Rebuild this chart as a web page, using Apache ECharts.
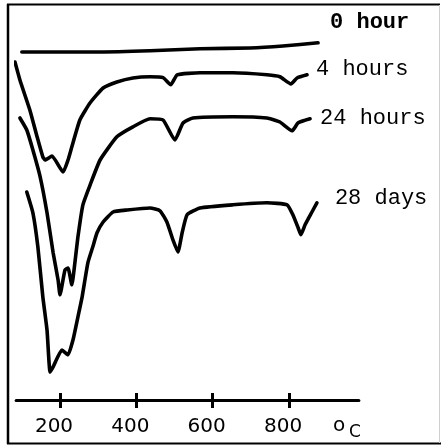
<!DOCTYPE html>
<html>
<head>
<meta charset="utf-8">
<script src="https://cdn.jsdelivr.net/npm/echarts@6/dist/echarts.min.js"></script>
<style>
html,body{margin:0;padding:0;background:#fff;}
#chart{width:442px;height:447px;}
</style>
</head>
<body>
<div id="chart"></div>
<script>
// Temperature (°C) and relative DTA deflection (arbitrary units, up = higher)
const seriesNames = ['0 hour', '4 hours', '24 hours', '28 days'];
const tickTemps = [200, 400, 600, 800];

const temp0h = [100, 305, 436, 567, 698, 784, 876];
const dta0h  = [87, 87, 87.3, 87.8, 88, 88.5, 89.3];

const temp4h = [82, 95, 121, 140, 155, 161, 179, 208, 221, 231, 252, 279, 313, 349, 391, 436, 470, 490, 507, 567, 653, 742, 776, 805, 821, 847];
const dta4h  = [84.5, 80, 72.5, 65.8, 60.8, 60, 61, 57, 60, 63.3, 70, 74.3, 78, 79.5, 80.5, 80.8, 80.6, 78.8, 81.3, 81.8, 81.8, 81.3, 80.8, 79, 80.5, 81.3];

const temp24h = [95, 113, 129, 148, 166, 182, 195, 200, 213, 221, 231, 239, 247, 260, 279, 305, 349, 391, 436, 470, 501, 522, 548, 653, 742, 776, 808, 824, 855];
const dta24h  = [70.5, 67.5, 62.5, 55.8, 46.8, 36.8, 30, 26.3, 32.5, 33, 28.8, 34.3, 40.8, 48.8, 53.8, 60, 65.8, 68.3, 70.3, 70, 65, 69.2, 70.5, 70.8, 70.5, 69.5, 67.3, 69.3, 70.3];

const temp28d = [113, 129, 142, 155, 166, 174, 182, 205, 221, 234, 247, 258, 273, 286, 297, 313, 339, 376, 436, 462, 480, 496, 509, 520, 533, 567, 653, 742, 795, 810, 824, 831, 842, 860, 873];
const dta28d  = [52, 46.8, 38.3, 25.8, 17.5, 7, 8.3, 12.5, 11.3, 15, 20.8, 25.8, 34.3, 38.3, 41.8, 44.5, 47, 47.5, 48, 47.3, 44.5, 40, 37, 41.8, 46.3, 48, 48.8, 49.3, 48.8, 46.3, 43, 41.3, 43.8, 47, 49.3];

const temps = [temp0h, temp4h, temp24h, temp28d];
const dtas = [dta0h, dta4h, dta24h, dta28d];
const labelOffsets = [[4, -20], [1, -6], [2, -1], [10, -5]];
const labelWeights = ['bold', 'normal', 'normal', 'normal'];

const pair = (t, v) => t.map((x, i) => [x, v[i]]);

const chart = echarts.init(document.getElementById('chart'), null, {renderer: 'canvas'});

const series = seriesNames.map((name, k) => ({
  name: name,
  type: 'line',
  data: pair(temps[k], dtas[k]),
  showSymbol: false,
  symbol: 'none',
  smooth: 0.15,
  clip: false,
  lineStyle: {color: '#000', width: 3.6, cap: 'round', join: 'round'},
  endLabel: {
    show: true,
    formatter: '{a}',
    offset: labelOffsets[k],
    fontFamily: 'Liberation Mono',
    fontWeight: labelWeights[k],
    fontSize: 22,
    color: '#000'
  },
  emphasis: {disabled: true}
}));

const option = {
  animation: false,
  backgroundColor: '#fff',
  grid: {left: 16.1, right: 83.1, top: 0, bottom: 47},
  xAxis: [{
    type: 'value', min: 85, max: 983,
    axisLine: {show: true, lineStyle: {color: '#000', width: 3}},
    axisTick: {show: true, customValues: tickTemps, length: 8, lineStyle: {color: '#000', width: 3}},
    axisLabel: {show: true, customValues: tickTemps, fontFamily: 'DejaVu Sans', fontSize: 20, color: '#000', margin: 17, padding: [0, 12, 0, 0]},
    splitLine: {show: false}
  }, {
    type: 'value', min: 85, max: 983, position: 'bottom',
    axisLine: {show: false},
    axisTick: {show: true, inside: true, customValues: tickTemps, length: 7, lineStyle: {color: '#000', width: 3}},
    axisLabel: {show: false},
    splitLine: {show: false}
  }],
  yAxis: {type: 'value', min: 0, max: 100, show: false},
  series: series,
  graphic: [
    {type: 'line', shape: {x1: 8, y1: 4, x2: 8, y2: 444}, style: {stroke: '#000', lineWidth: 2.5}},
    {type: 'line', shape: {x1: 7, y1: 4.5, x2: 440, y2: 4.5}, style: {stroke: '#000', lineWidth: 2}},
    {type: 'line', shape: {x1: 7, y1: 443.5, x2: 441, y2: 443.5}, style: {stroke: '#000', lineWidth: 2}},
    {type: 'line', shape: {x1: 439.5, y1: 5, x2: 439.5, y2: 443}, style: {stroke: '#cfcfcf', lineWidth: 1}},
    {type: 'text', left: 333, top: 416, style: {text: 'o', font: '20px "DejaVu Sans"', fill: '#000'}},
    {type: 'text', left: 349, top: 424, style: {text: 'C', font: '17px "DejaVu Sans"', fill: '#000'}}
  ]
};
chart.setOption(option);
</script>
</body>
</html>
